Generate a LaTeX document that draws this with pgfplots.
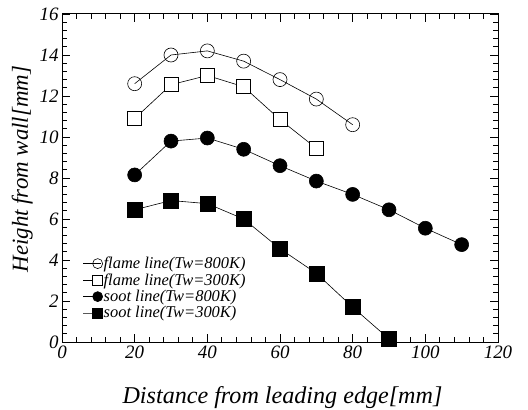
\documentclass[border=0pt]{standalone}
\usepackage{pgfplots}
\pgfplotsset{compat=1.18}
\usepackage{fontspec}
\setmainfont{Liberation Serif}

\begin{document}
\begin{tikzpicture}
\begin{axis}[
  name=ax,
  scale only axis,
  width=436bp, height=328bp,
  xmin=0, xmax=120, ymin=0, ymax=16,
  xtick={0,20,...,120}, ytick={0,2,...,16},
  minor x tick num=4, minor y tick num=4,
  tick align=inside,
  major tick length=8bp, minor tick length=5bp,
  every tick/.style={black, line width=0.8pt},
  axis line style={line width=1pt},
  xticklabel={\itshape\pgfmathprintnumber[assume math mode=true]{\tick}},
  yticklabel={\itshape\pgfmathprintnumber[assume math mode=true]{\tick}},
  tick label style={font=\fontsize{19}{21}\selectfont\itshape},
  xlabel={Distance from leading edge[mm]},
  ylabel={Height from wall[mm]},
  xlabel style={font=\fontsize{24.2}{26}\selectfont\itshape,
    at={(axis description cs:0.5057,-0.188)}, anchor=base},
  ylabel style={font=\fontsize{23}{26}\selectfont\itshape,
    at={(axis description cs:-0.078,0.527)}, anchor=base},
  legend style={at={(axis cs:5.78,4.25)}, anchor=north west, draw=none, fill=none,
    font=\fontsize{16.5}{17}\selectfont\itshape, row sep=-0.5bp,
    inner sep=0pt, nodes={inner xsep=1bp}},
  legend cell align=left,
  legend image code/.code={
    \draw[mark repeat=2,mark phase=2,#1] plot coordinates {(0cm,0cm)(0.5cm,0cm)(0.62cm,0cm)};
  },
  legend image post style={mark size=5bp},
]
\addplot[black, line width=0.6pt, mark=o, mark size=7bp, mark options={fill=white, line width=0.6pt}]
  coordinates {(20,12.6)(30,14.0)(40,14.2)(50,13.7)(60,12.8)(70,11.85)(80,10.6)};
\addplot[black, line width=0.6pt, mark=square*, mark size=7bp, mark options={fill=white, line width=0.6pt}]
  coordinates {(20,10.9)(30,12.55)(40,13.0)(50,12.45)(60,10.85)(70,9.45)};
\addplot[black, line width=0.6pt, mark=*, mark size=7bp, mark options={fill=black}]
  coordinates {(20,8.15)(30,9.8)(40,9.95)(50,9.4)(60,8.6)(70,7.85)(80,7.2)(90,6.45)(100,5.55)(110,4.75)};
\addplot[black, line width=0.6pt, mark=square*, mark size=7.5bp, mark options={fill=black}]
  coordinates {(20,6.45)(30,6.9)(40,6.75)(50,6.0)(60,4.55)(70,3.35)(80,1.7)(90,0.15)};
\legend{flame line(Tw=800K), flame line(Tw=300K), soot line(Tw=800K), soot line(Tw=300K)}
\end{axis}
\pgfresetboundingbox
\path[use as bounding box] ([xshift=-62bp,yshift=-68bp]ax.south west) rectangle ([xshift=30bp,yshift=14bp]ax.north east);
\end{tikzpicture}
\end{document}
